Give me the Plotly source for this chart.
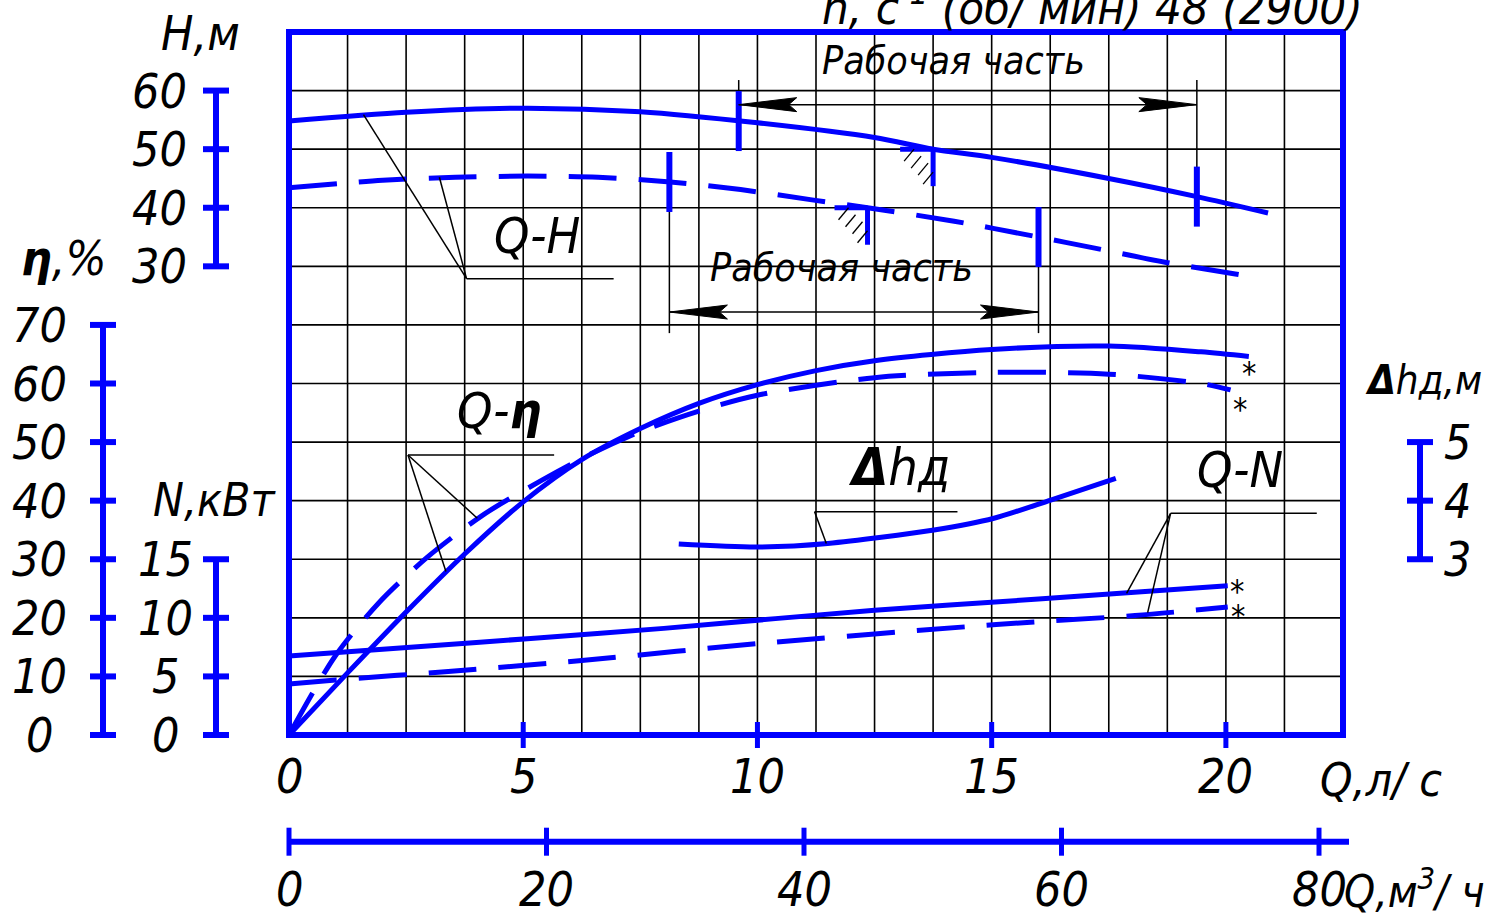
import plotly.graph_objects as go

# ---- pump characteristics, flow Q in l/s ----
# head H, m (solid: full impeller, dashed: trimmed impeller)
q_head_a = [0, 2.5, 5, 7.5, 10, 12.5, 13.75, 15, 17.5, 19.38, 20.9]
head_a = [54.8, 56.3, 57.0, 56.4, 54.5, 52.0, 50.0, 48.6, 45.0, 41.9, 39.1]
q_head_b = [0, 2.0, 3.55, 5.09, 6.6, 8.14, 9.64, 11.2, 12.35, 14.2, 16.0, 17.2, 18.7, 20.2, 20.73]
head_b = [43.4, 44.7, 45.2, 45.4, 45.2, 44.4, 43.1, 41.3, 40.0, 37.7, 35.0, 33.1, 30.7, 28.7, 28.0]

# efficiency, %
q_eff_a = [0, 1.25, 2.5, 3.75, 5, 6.25, 7.5, 8.75, 10, 11.25, 12.5, 15, 17.5, 19.47, 20.49]
eff_a = [0, 10.6, 21.0, 30.9, 39.8, 47.0, 52.3, 56.6, 59.8, 62.2, 63.9, 65.8, 66.4, 65.4, 64.6]
q_eff_b = [0, 0.98, 1.91, 2.96, 4.13, 5.40, 6.45, 7.5, 8.75, 10, 12.5, 15, 17.5, 19.47, 20.1]
eff_b = [0, 13.4, 22.5, 30.4, 37.5, 43.5, 48.0, 51.8, 55.3, 58.0, 61.0, 61.9, 61.6, 60.0, 58.9]

# power input N, kW
q_pow_a = [0, 4, 6.65, 8, 12.5, 16, 18.2, 20.04]
pow_a = [6.74, 7.9, 8.68, 9.1, 10.65, 11.6, 12.23, 12.74]
q_pow_b = [0, 1, 3.4, 6.25, 10, 15.1, 18.06, 20.04]
pow_b = [4.35, 4.7, 5.42, 6.36, 7.8, 9.43, 10.2, 10.92]

# permissible suction lift, m
q_npsh = [8.32, 10.0, 11.5, 13.77, 15.05, 16.26, 17.65]
npsh = [3.26, 3.21, 3.27, 3.50, 3.70, 4.01, 4.38]

# operating range limits (Q, H) and best-efficiency points
work_a = [(9.6, 54.8), (19.38, 41.9)]
work_b = [(8.12, 44.4), (16.0, 35.0)]
best_a = (13.75, 50.0)
best_b = (12.35, 40.0)

# scale ticks
q_ls_ticks = [0, 5, 10, 15, 20]
q_m3h_ticks = [0, 20, 40, 60, 80]
head_ticks = [30, 40, 50, 60]
eff_ticks = [0, 10, 20, 30, 40, 50, 60, 70]
power_ticks = [0, 5, 10, 15]
npsh_ticks = [3, 4, 5]

# ---- page geometry ----
W, HGT = 1486, 919
FL, FR, FT, FB = 289, 1343, 32, 735          # chart frame, px
Q_MAX, Q_STEP = 22.5, 1.25                   # l/s across the frame, grid step
N_ROWS = 12                                  # horizontal grid cells
PX_Q = (FR - FL) / Q_MAX
PX_ROW = (FB - FT) / N_ROWS
PX_M3H = 12.875                              # px per m3/h on the lower scale
BAR2_Y, BAR2_END = 841.7, 1349

BLUE = "#0000ff"
FONT = "Liberation Sans Narrow, Arial Narrow, DejaVu Sans Condensed, sans-serif"
DASH = "48px,22px"
TICK_SIZE = 48


def px(x):
    return x / W


def py(y):
    return 1 - y / HGT


row_lo, row_hi = -(HGT - FB) / PX_ROW, FB / PX_ROW


def rows(per_row, offset=0.0):
    return [row_lo * per_row + offset, row_hi * per_row + offset]


fig = go.Figure()


def curve(x, y, yaxis, dash=None):
    fig.add_trace(go.Scatter(
        x=x, y=y, yaxis=yaxis, mode="lines", hoverinfo="skip", showlegend=False,
        line=dict(color=BLUE, width=5, dash=dash, shape="spline", smoothing=0.8)))


curve(q_head_a, head_a, "y2")
curve(q_head_b, head_b, "y2", DASH)
curve(q_eff_a, eff_a, "y")
curve(q_eff_b, eff_b, "y", DASH)
curve(q_pow_a, pow_a, "y3")
curve(q_pow_b, pow_b, "y3", DASH)
curve(q_npsh, npsh, "y4")
fig.add_trace(go.Scatter(x=[], y=[], xaxis="x2", yaxis="y", showlegend=False))

shapes = []


def seg(x0, y0, x1, y1, xref, yref, color="black", width=1.5, layer="above", **kw):
    shapes.append(dict(type="line", x0=x0, y0=y0, x1=x1, y1=y1, xref=xref, yref=yref,
                       line=dict(color=color, width=width), layer=layer, **kw))


# grid
for k in range(1, round(Q_MAX / Q_STEP)):
    seg(k * Q_STEP, 0, k * Q_STEP, N_ROWS * 10, "x", "y", width=1.6, layer="below")
for k in range(1, N_ROWS):
    seg(0, k * 10, Q_MAX, k * 10, "x", "y", width=1.6, layer="below")

# blank fields behind captions
for x0, y0, x1, y1 in [(818, 34, 1166, 92), (702, 247, 1044, 323), (490, 209, 579, 264),
                       (425, 386, 578, 440), (830, 444, 985, 498), (1185, 444, 1281, 498)]:
    shapes.append(dict(type="rect", xref="paper", yref="paper", x0=px(x0), x1=px(x1),
                       y0=py(y1), y1=py(y0), fillcolor="white", line=dict(width=0),
                       layer="below"))

# frame and the l/s ticks crossing it
shapes.append(dict(type="rect", xref="x", yref="y", x0=0, x1=Q_MAX, y0=0, y1=N_ROWS * 10,
                   line=dict(color=BLUE, width=6), layer="above"))
for q in q_ls_ticks[1:]:
    seg(q, -13, q, 13, "x", "y", color=BLUE, width=5, ysizemode="pixel", yanchor=0)

# lower m3/h scale
seg(0, py(BAR2_Y), (BAR2_END - FL) / PX_M3H, py(BAR2_Y), "x2", "paper", color=BLUE, width=6)
for m in q_m3h_ticks:
    seg(m, -14, m, 14, "x2", "paper", color=BLUE, width=5, ysizemode="pixel",
        yanchor=py(BAR2_Y))


def scale_bar(x_px, yref, ticks):
    seg(px(x_px), ticks[0], px(x_px), ticks[-1], "paper", yref, color=BLUE, width=6)
    for t in ticks:
        seg(-13, t, 13, t, "paper", yref, color=BLUE, width=6, xsizemode="pixel",
            xanchor=px(x_px))


scale_bar(216, "y2", head_ticks)
scale_bar(103, "y", eff_ticks)
scale_bar(216, "y3", power_ticks)
scale_bar(1420, "y4", npsh_ticks)


def arrowhead(q, v, yref, d):
    shapes.append(dict(type="path", xref="x", yref=yref, xsizemode="pixel",
                       ysizemode="pixel", xanchor=q, yanchor=v,
                       path=f"M0,0 L{58 * d},7 L{50 * d},0 L{58 * d},-7 Z",
                       fillcolor="black", line=dict(color="black", width=1),
                       layer="above"))


def work_range(limits, ext_to, arrow_at):
    (q0, h0), (q1, h1) = limits
    for q, h in limits:
        seg(q, h, q, ext_to, "x", "y2")
        seg(q, -30, q, 30, "x", "y2", color=BLUE, width=6, ysizemode="pixel", yanchor=h)
        shapes[-1].update(x0=q, x1=q)
    seg(q0, arrow_at, q1, arrow_at, "x", "y2")
    arrowhead(q0, arrow_at, "y2", 1)
    arrowhead(q1, arrow_at, "y2", -1)


work_range(work_a, 61.8, 57.6)
work_range(work_b, 18.6, 22.2)


def best_mark(q, h):
    seg(-33, h, 0, h, "x", "y2", color=BLUE, width=5, xsizemode="pixel", xanchor=q)
    seg(q, -37, q, 0, "x", "y2", color=BLUE, width=5, ysizemode="pixel", yanchor=h)
    for cx, cy in [(-24, -6), (-17, -13), (-10, -20), (-5, -29)]:
        seg(cx - 5, cy - 6, cx + 5, cy + 6, "x", "y2", width=1.3, xsizemode="pixel",
            ysizemode="pixel", xanchor=q, yanchor=h)


best_mark(*best_a)
best_mark(*best_b)

# leader lines from captions to curves
seg(3.79, 27.9, 6.93, 27.9, "x", "y2")
seg(3.79, 27.9, 1.59, 55.9, "x", "y2")
seg(3.79, 27.9, 3.21, 45.2, "x", "y2")
seg(2.54, 47.8, 5.66, 47.8, "x", "y")
seg(2.54, 47.8, 4.02, 37.0, "x", "y")
seg(2.54, 47.8, 3.35, 27.9, "x", "y")
seg(11.22, 3.81, 14.27, 3.81, "x", "y4")
seg(11.22, 3.81, 11.47, 3.27, "x", "y4")
seg(18.82, 18.92, 21.94, 18.92, "x", "y3")
seg(18.82, 18.92, 17.88, 12.09, "x", "y3")
seg(18.82, 18.92, 18.33, 10.44, "x", "y3")

ann = []


def text(s, x, y, xref="paper", yref="paper", size=TICK_SIZE, xanchor="center",
         yanchor="middle", **kw):
    ann.append(dict(text=s, x=x, y=y, xref=xref, yref=yref, showarrow=False,
                    xanchor=xanchor, yanchor=yanchor,
                    font=dict(family=FONT, size=size, color="black", style="italic"),
                    **kw))


for t in head_ticks:
    text(str(t), px(159), t, yref="y2")
for t in eff_ticks:
    text(str(t), px(39), t, yref="y")
for t in power_ticks:
    text(str(t), px(165), t, yref="y3")
for t in npsh_ticks:
    text(str(t), px(1457), t, yref="y4")
for q in q_ls_ticks:
    text(str(q), q, py(776), xref="x")
for m in q_m3h_ticks:
    text(str(m), m, 0, xref="x2", yanchor="bottom")

text("Н,м", px(200), py(33), size=48)
text("<b>η</b>,%", px(64), py(258), size=48)
text("N,кВт", px(214), py(500), size=46)
text("<b>Δ</b>hд,м", px(1484), py(380), size=40, xanchor="right")
text("Q,л/ с", px(1318), py(780), size=46, xanchor="left")
text("Q,м<sup>3</sup>/ ч", px(1342), 0, size=44, xanchor="left", yanchor="bottom")
text("Q-H", px(537), py(236), size=50)
text("Q-<b>η</b>", px(500), py(411), size=50)
text("<b>Δ</b>hд", px(899), py(467), size=52)
text("Q-N", px(1240), py(470), size=50)
text("Рабочая часть", px(953), py(60), size=39)
text("Рабочая часть", px(842), py(268), size=39)
text("n, c<sup>-1</sup> (об/ мин) 48 (2900)", px(820), py(4), size=47, xanchor="left")

# asterisks at the ends of the efficiency and power curves
text("*", q_eff_a[-1], eff_a[-1], xref="x", yref="y", size=32, xshift=0, yshift=-16)
text("*", q_eff_b[-1], eff_b[-1], xref="x", yref="y", size=32, xshift=9, yshift=-19)
text("*", q_pow_a[-1], pow_a[-1], xref="x", yref="y3", size=32, xshift=9, yshift=-5)
text("*", q_pow_b[-1], pow_b[-1], xref="x", yref="y3", size=32, xshift=10, yshift=-9)

hidden = dict(visible=False, fixedrange=True)
fig.update_layout(
    width=W, height=HGT, margin=dict(l=0, r=0, t=0, b=0),
    paper_bgcolor="white", plot_bgcolor="white", showlegend=False,
    xaxis=dict(domain=[0, 1], range=[-FL / PX_Q, (W - FL) / PX_Q], **hidden),
    xaxis2=dict(overlaying="x", range=[-FL / PX_M3H, (W - FL) / PX_M3H], **hidden),
    yaxis=dict(domain=[0, 1], range=rows(10), **hidden),
    yaxis2=dict(overlaying="y", range=rows(10, -50), **hidden),
    yaxis3=dict(overlaying="y", range=rows(5), **hidden),
    yaxis4=dict(overlaying="y", range=rows(1), **hidden),
    shapes=shapes, annotations=ann,
)

fig.write_html("out.html")
